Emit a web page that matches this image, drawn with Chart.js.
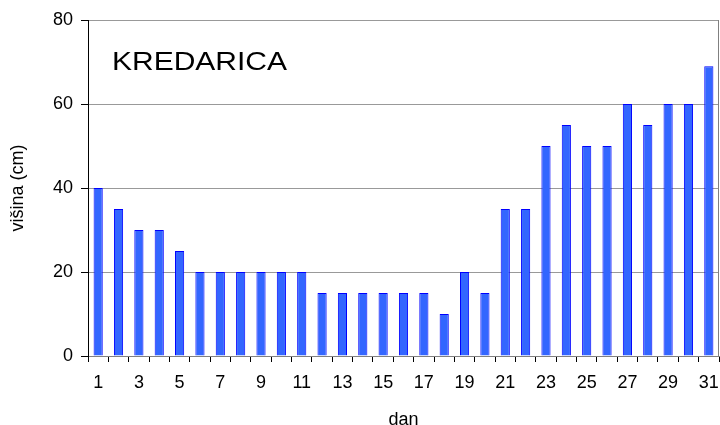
<!DOCTYPE html>
<html>
<head>
<meta charset="utf-8">
<script src="https://cdn.jsdelivr.net/npm/chart.js@4"></script>
<style>
  html, body { margin: 0; padding: 0; background: #fff; }
  #wrap { width: 720px; height: 425px; }
</style>
</head>
<body>
<div id="wrap"><canvas id="my-chart" width="720" height="425"></canvas></div>
<script>
const days = [];
for (let d = 1; d <= 31; d++) days.push(String(d));
const snowDepth = [40, 35, 30, 30, 25, 20, 20, 20, 20, 20, 20, 15, 15, 15, 15, 15, 15, 10, 20, 15,
                   35, 35, 50, 55, 50, 50, 60, 55, 60, 60, 69];
const yTicks = [0, 20, 40, 60, 80];
const stationName = 'KREDARICA';
const xTitle = 'dan';
const yTitle = 'višina (cm)';

const fontFamily = "'Liberation Sans', Arial, sans-serif";

// label in the upper left + grey frame on the right
const stationLabel = {
  id: 'stationLabel',
  afterDraw(chart) {
    const ctx = chart.ctx;
    const area = chart.chartArea;
    ctx.save();
    ctx.strokeStyle = '#808080';
    ctx.lineWidth = 1;
    ctx.beginPath();
    ctx.moveTo(area.right - 0.5, area.top);
    ctx.lineTo(area.right - 0.5, area.bottom);
    ctx.stroke();
    ctx.fillStyle = '#000';
    ctx.font = '25px ' + fontFamily;
    ctx.textBaseline = 'middle';
    ctx.translate(112, 63);
    ctx.scale(1.2, 1);
    ctx.fillText(stationName, 0, 0);
    ctx.restore();
  }
};

const ctx = document.getElementById('my-chart').getContext('2d');
const chart = new Chart(ctx, {
  type: 'bar',
  data: {
    labels: days,
    datasets: [{
      data: snowDepth,
      backgroundColor: '#3366ff',
      borderColor: '#0000ff',
      borderWidth: 1,
      barPercentage: 0.9,
      categoryPercentage: 0.5
    }]
  },
  options: {
    responsive: false,
    animation: false,
    layout: { padding: { top: 20, right: 1, left: 0, bottom: 0 } },
    plugins: { legend: { display: false }, tooltip: { enabled: false } },
    scales: {
      x: {
        offset: true,
        grid: {
          offset: true,
          drawOnChartArea: false,
          tickLength: 6,
          tickColor: '#000'
        },
        border: { color: '#808080' },
        ticks: {
          autoSkip: false,
          maxRotation: 0,
          color: '#000',
          font: { family: fontFamily, size: 18 },
          padding: 10,
          callback: function (val, i) { return i % 2 === 0 ? days[i] : ''; }
        },
        title: {
          display: true,
          text: xTitle,
          color: '#000',
          font: { family: fontFamily, size: 18 },
          padding: { top: 9, bottom: -6 }
        },
        afterFit: function (scale) {
          scale.height = 69;
          scale.paddingLeft = 0;
          scale.paddingRight = 0;
        }
      },
      y: {
        min: 0,
        max: 80,
        afterBuildTicks: function (scale) { scale.ticks = yTicks.map(v => ({ value: v })); },
        grid: {
          color: '#999',
          tickColor: '#000',
          tickLength: 7
        },
        border: { color: '#000' },
        ticks: {
          color: '#000',
          font: { family: fontFamily, size: 18 },
          padding: 8
        },
        title: {
          display: true,
          text: yTitle,
          color: '#000',
          font: { family: fontFamily, size: 18 },
          padding: { top: 7, bottom: 0 }
        },
        afterFit: function (scale) { scale.width = 88; }
      }
    }
  },
  plugins: [stationLabel]
});
</script>
</body>
</html>
